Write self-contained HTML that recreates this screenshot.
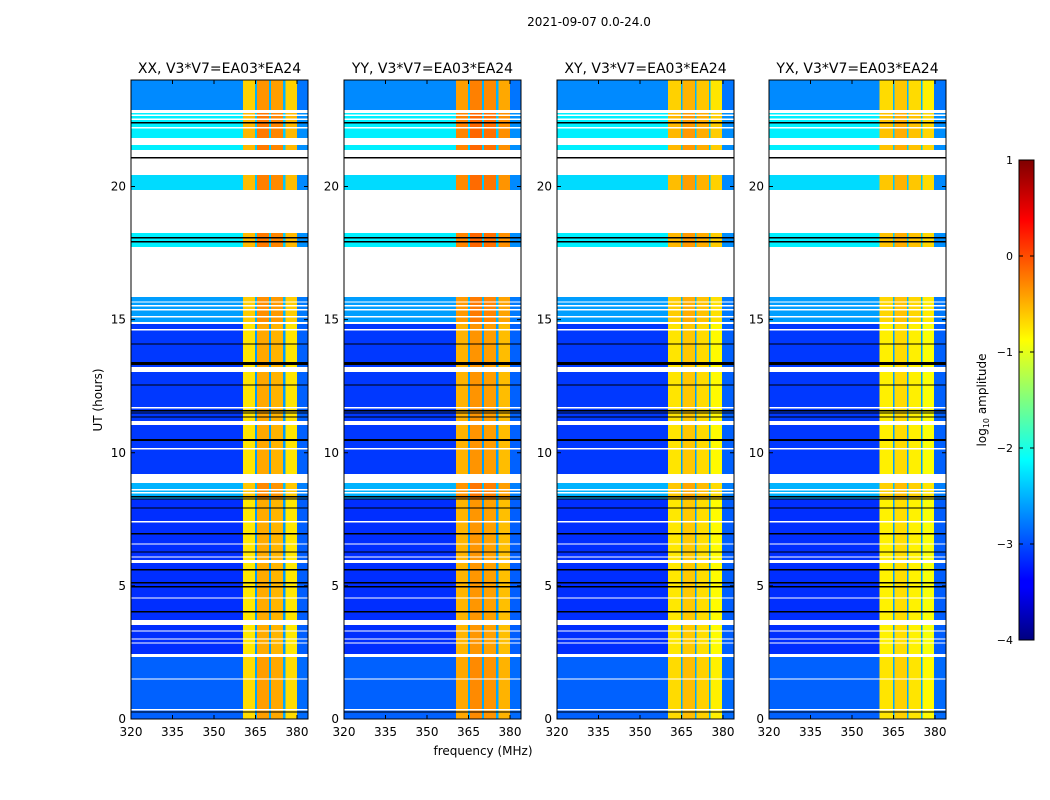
<!DOCTYPE html>
<html><head><meta charset="utf-8"><style>
body{margin:0;background:#fff;}
svg{display:block;font-family:"DejaVu Sans","Liberation Sans",sans-serif;}
</style></head><body>
<svg id="fig" width="1050" height="800" viewBox="0 0 1050 800" xmlns="http://www.w3.org/2000/svg">
<defs>
<linearGradient id="jetgrad" x1="0" y1="1" x2="0" y2="0">
<stop offset="0" stop-color="#00007f"/><stop offset="0.11" stop-color="#0000ff"/>
<stop offset="0.125" stop-color="#0000ff"/><stop offset="0.375" stop-color="#00ffff"/>
<stop offset="0.625" stop-color="#ffff00"/><stop offset="0.875" stop-color="#ff0000"/>
<stop offset="1" stop-color="#7f0000"/></linearGradient>
</defs>
<text x="589" y="26" font-size="12" text-anchor="middle">2021-09-07 0.0-24.0</text>
<text x="483" y="755" font-size="12" text-anchor="middle">frequency (MHz)</text>
<text transform="translate(102,400) rotate(-90)" font-size="12" text-anchor="middle">UT (hours)</text>
<g id="panels"></g>
<g id="cbar"></g>
</svg>
<script>
const NS="http://www.w3.org/2000/svg";
const panelTitles=["XX, V3*V7=EA03*EA24","YY, V3*V7=EA03*EA24","XY, V3*V7=EA03*EA24","YX, V3*V7=EA03*EA24"];
const xTicks=[320,335,350,365,380];
const yTicks=[0,5,10,15,20];
const cbTicks=[1,0,-1,-2,-3,-4];
// frequency bands [start MHz, end MHz, log10 amplitude] per panel
const bandsXX=[[320,360.4,-3.1],[360.4,364.8,-0.75],[364.8,365.5,-2.6],[365.5,369.8,-0.45],[369.8,370.6,-2.6],[370.6,375,-0.5],[375,375.8,-2.6],[375.8,380,-0.75],[380,384,-2.9]];
const bandsYY=[[320,360.4,-3.1],[360.4,364.8,-0.5],[364.8,365.5,-2.6],[365.5,369.8,-0.35],[369.8,370.6,-2.6],[370.6,375,-0.4],[375,375.8,-2.6],[375.8,380,-0.55],[380,384,-2.9]];
const bandsXY=[[320,360.1,-3.1],[360.1,364.8,-0.75],[364.8,365.4,-2.6],[365.4,369.8,-0.6],[369.8,370.5,-2.6],[370.5,374.9,-0.7],[374.9,375.5,-2.6],[375.5,379.6,-0.85],[379.6,384,-2.9]];
const bandsYX=[[320,360,-3.1],[360,364.8,-0.8],[364.8,365.4,-2.6],[365.4,369.8,-0.7],[369.8,370.5,-2.6],[370.5,374.9,-0.8],[374.9,375.5,-2.6],[375.5,379.6,-0.9],[379.6,384,-2.9]];
const panelBands=[bandsXX,bandsYY,bandsXY,bandsYX];
// time segments [start h, end h, baseline level of low band]
const timeLevels=[[0,2.4,-2.9],[2.4,8.3,-3.15],[8.3,9.2,-2.5],[9.2,13.2,-3.1],[13.2,14.9,-3.1],[14.9,15.9,-2.6],[15.9,18.3,-2.2],[18.3,21,-2.3],[21,22.8,-2.2],[22.8,24,-2.7]];
// flagged rows [start h, end h, kind w=white/blank k=black]
const flags=[[22.76,22.87,'w'],[22.64,22.70,'w'],[22.50,22.56,'w'],[22.36,22.42,'k'],[22.17,22.23,'w'],[21.55,21.82,'w'],[21.10,21.37,'w'],[21.04,21.10,'k'],[20.43,21.06,'w'],[18.25,19.86,'w'],[18.05,18.10,'k'],[17.90,17.95,'k'],[15.85,17.72,'w'],[15.64,15.69,'w'],[15.49,15.54,'w'],[15.34,15.39,'w'],[15.08,15.13,'w'],[14.83,14.91,'w'],[14.59,14.64,'w'],[14.06,14.11,'k'],[13.29,13.41,'k'],[13.03,13.22,'w'],[12.52,12.57,'k'],[11.66,11.71,'w'],[11.55,11.60,'k'],[11.47,11.52,'k'],[11.32,11.37,'k'],[11.04,11.19,'w'],[10.45,10.51,'k'],[10.12,10.17,'w'],[8.86,9.20,'w'],[8.58,8.63,'w'],[8.47,8.52,'w'],[8.32,8.37,'k'],[8.24,8.29,'k'],[7.90,7.95,'k'],[7.38,7.43,'w'],[6.93,6.98,'k'],[6.55,6.60,'w'],[6.25,6.30,'k'],[6.06,6.11,'w'],[5.86,5.97,'w'],[5.58,5.63,'k'],[5.09,5.14,'k'],[4.94,4.99,'k'],[4.52,4.57,'w'],[4.00,4.05,'k'],[3.53,3.72,'w'],[3.28,3.33,'w'],[2.98,3.03,'w'],[2.83,2.88,'w'],[2.33,2.44,'w'],[1.48,1.53,'w'],[0.32,0.37,'w'],[0.24,0.29,'k']];

const panelX=[131,344,557,769], PW=177, PT=80, PB=719;
function jet(v){const t=Math.max(0,Math.min(1,(v+4)/5));
 const c=x=>Math.round(255*Math.max(0,Math.min(1,1.5-Math.abs(x))));
 return `rgb(${c(4*t-3)},${c(4*t-2)},${c(4*t-1)})`;}
function mk(tag,attrs,parent){const e=document.createElementNS(NS,tag);for(const k in attrs)e.setAttribute(k,attrs[k]);parent.appendChild(e);return e;}
const root=document.getElementById('panels');
panelX.forEach((x0,pi)=>{
 const xs=f=>x0+(f-320)*(166/60);
 const ys=h=>PB-h*(PB-PT)/24;
 const g=mk('g',{},root);
 
 
 const clipId='clip'+pi;
 const cp=mk('clipPath',{id:clipId},g);mk('rect',{x:x0,y:PT,width:PW,height:PB-PT},cp);
 const hm=mk('g',{'clip-path':`url(#${clipId})`,'shape-rendering':'crispEdges'},g);
 
 
 panelBands[pi].forEach(b=>{
  timeLevels.forEach(t=>{
   const wide=b[1]-b[0]>10;
   const v=wide?t[2]:b[2]+0.25*(t[2]+3.1);
   const r=mk('rect',{x:xs(b[0]),y:ys(t[1]),width:xs(b[1])-xs(b[0])+0.3,height:ys(t[0])-ys(t[1])+0.3,fill:jet(v)},hm);
   
   
  });
 });
 flags.forEach(f=>{
  const r=mk('rect',{x:x0,y:ys(f[1]),width:PW,height:Math.max(1,ys(f[0])-ys(f[1])),fill:f[2]==='w'?'#fff':'#000'},hm);
  
  
 });
 mk('rect',{x:x0,y:PT,width:PW,height:PB-PT,fill:'none',stroke:'#000','stroke-width':1},g);
 const tt=mk('text',{x:x0+PW/2,y:73,'font-size':14,'text-anchor':'middle'},g);tt.textContent=panelTitles[pi];
 
 
 xTicks.forEach(f=>{const X=xs(f);
  mk('line',{x1:X,x2:X,y1:PB,y2:PB-4,stroke:'#000'},g);mk('line',{x1:X,x2:X,y1:PT,y2:PT+4,stroke:'#000'},g);
  const t=mk('text',{x:X,y:PB+17,'font-size':12,'text-anchor':'middle'},g);t.textContent=f;
  
  });
 yTicks.forEach(h=>{const Y=ys(h);
  mk('line',{x1:x0,x2:x0+4,y1:Y,y2:Y,stroke:'#000'},g);mk('line',{x1:x0+PW,x2:x0+PW-4,y1:Y,y2:Y,stroke:'#000'},g);
  const t=mk('text',{x:x0-5,y:Y+4,'font-size':12,'text-anchor':'end'},g);t.textContent=h;
  
  });
});
const cb=document.getElementById('cbar');
const CT=160,CB=640,CX=1019,CW=15;
mk('rect',{x:CX,y:CT,width:CW,height:CB-CT,fill:'url(#jetgrad)',stroke:'#000'},cb);
cbTicks.forEach(v=>{const Y=CB-(v+4)/5*(CB-CT);
 mk('line',{x1:CX,x2:CX+4,y1:Y,y2:Y,stroke:'#000'},cb);mk('line',{x1:CX+CW,x2:CX+CW-4,y1:Y,y2:Y,stroke:'#000'},cb);
 const t=mk('text',{x:1013,y:Y+4,'font-size':11,'text-anchor':'end'},cb);t.textContent=v<0?'\u2212'+(-v):v;
 
 });
const cl=mk('text',{transform:'translate(986,400) rotate(-90)','font-size':12,'text-anchor':'middle'},cb);
cl.innerHTML='log<tspan font-size="8" dy="3">10</tspan><tspan dy="-3"> amplitude</tspan>';


</script>
</body></html>
